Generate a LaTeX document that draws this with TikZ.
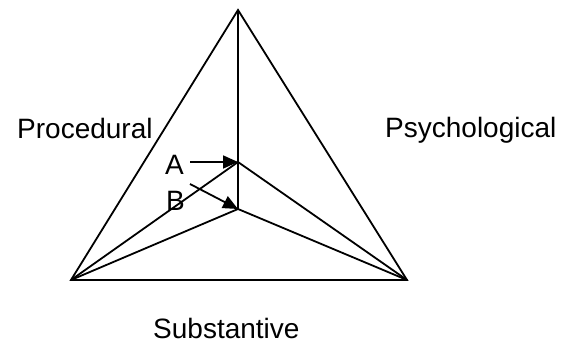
\documentclass[tikz,border=0pt]{standalone}
\usepackage{fontspec}
\setmainfont{Liberation Sans}
\usetikzlibrary{arrows.meta}
\begin{document}
\begin{tikzpicture}[x=1pt,y=-1pt,
  edge/.style={line width=1.8pt,line join=miter},
  pointer/.style={line width=1.8pt,-{Triangle[length=15pt,width=13pt]}},
  lbl/.style={inner sep=0pt,anchor=base west,font=\fontsize{28}{32}\selectfont}]
\useasboundingbox (0,0) rectangle (563,345);
\coordinate (T) at (238,10);
\coordinate (L) at (71,280);
\coordinate (R) at (407,280);
\coordinate (A) at (238,162);
\coordinate (B) at (238,209);
\coordinate (ta) at (190,162);
\coordinate (tb) at (190,184);
\draw[edge] (T) -- (L) -- (R) -- cycle;
\draw[edge] (T) -- (B);
\draw[edge] (L) -- (A) -- (R);
\draw[edge] (L) -- (B) -- (R);
\draw[pointer] (ta) -- (A);
\draw[pointer] (tb) -- (B);
\node[lbl] (proc) at (17,139) {Procedural};
\node[lbl] (psych) at (385,138) {Psychological};
\node[lbl] (subst) at (153,338) {Substantive};
\node[lbl] (la) at (165,174) {A};
\node[lbl] (lb) at (166,210) {B};
\end{tikzpicture}
\end{document}
